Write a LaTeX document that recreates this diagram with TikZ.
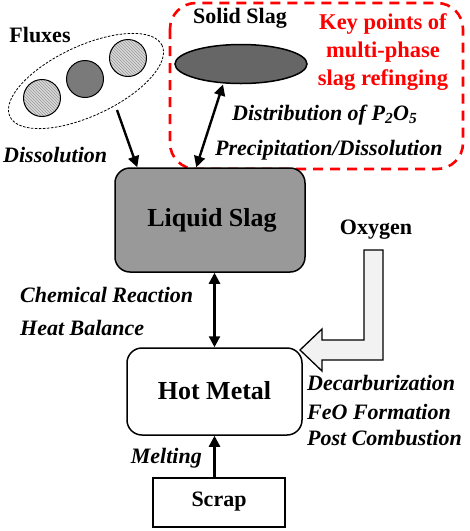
\documentclass[tikz,border=0pt]{standalone}
\usepackage{fontspec}
\setmainfont{Liberation Serif}
\usetikzlibrary{arrows.meta,shapes.geometric,patterns,calc}
\begin{document}
\begin{tikzpicture}[x=1pt,y=-1pt,
  bt/.style={font=\fontsize{22}{26}\selectfont\bfseries},
  big/.style={font=\fontsize{26}{30}\selectfont\bfseries},
  it/.style={font=\fontsize{22}{26}\selectfont\bfseries\itshape, inner sep=0pt},
  arr/.style={line width=2.4pt,-{Triangle[length=11pt,width=11pt]}},
  dbl/.style={line width=2.4pt,{Triangle[length=11pt,width=11pt]}-{Triangle[length=11pt,width=11pt]}},
  box/.style={draw, line width=1.5pt, inner sep=0pt},
  hatch/.style={preaction={fill=gray!30}, pattern=north west lines, pattern color=gray!80},
]
\useasboundingbox (0,0) rectangle (470,531);

% Fluxes group
\node[ellipse, draw, dash pattern=on 2.5pt off 1.5pt, line width=0.8pt, minimum width=168pt, minimum height=70pt, rotate=25, inner sep=0pt] (flux) at (86,81) {};
\node[circle, draw, line width=1pt, minimum size=37pt, inner sep=0pt, hatch] (c1) at (42,98) {};
\node[circle, draw, line width=1pt, minimum size=37pt, inner sep=0pt, fill=black!52] (c2) at (85,79) {};
\node[circle, draw, line width=1pt, minimum size=37pt, inner sep=0pt, hatch] (c3) at (128,58) {};
\node[bt] (fluxes) at (40,35) {Fluxes};

% key points frame
\draw[red, line width=2.6pt, dash pattern=on 10pt off 7pt, rounded corners=26pt] (170,3) rectangle (463,169);

% Solid slag
\coordinate (solid) at (241,64);
\draw[line width=1.5pt, fill=black!60] (solid) ellipse [x radius=66pt, y radius=19.5pt];
\node[bt] (solidt) at (240,18) {Solid Slag};
\node[font=\fontsize{22.5}{28}\selectfont\bfseries, text=red, align=center] (key) at (383,52) {Key points of\\multi-phase\\slag refinging};

% Liquid slag
\node[box, rounded corners=15pt, fill=black!40, minimum width=190pt, minimum height=104pt] (slag) at (210,220) {};
\node[big] (slagt) at (212,220) {Liquid Slag};

% Hot metal
\node[box, rounded corners=15pt, fill=white, minimum width=175pt, minimum height=87pt] (hot) at (214.5,391.5) {};
\node[big] (hott) at (214.5,391) {Hot Metal};

% Scrap
\node[box, minimum width=132pt, minimum height=49pt] (scrap) at (219,502.5) {};
\node[bt] (scrapt) at (219,502) {Scrap};

% Oxygen
\node[bt] (oxy) at (376,230) {Oxygen};
\coordinate (oxtip) at (300,350);
\draw[line width=1.3pt, fill=gray!10] (364,250) -- (383,250) -- (383,360) -- (322,360) -- (322,371) -- (oxtip) -- (322,329) -- (322,340) -- (364,340) -- cycle;

% connectors
\coordinate (fa) at (117,110);
\draw[arr] (fa) -- ($(slag.north west)+(23,0)$);
\coordinate (sa) at (223,84.5);
\draw[dbl] (sa) -- ($(slag.north west)+(82,0)$);
\draw[dbl] (hot.north |- slag.south) -- (hot.north);
\draw[arr] (scrap.north -| hot.south) -- (hot.south);

% labels
\node[it, anchor=west] (diss) at (3,155) {Dissolution};
\node[it, anchor=west] (distr) at (232,115) {Distribution of P\textsubscript{2}O\textsubscript{5}};
\node[it, anchor=west] (prec) at (215,150) {Precipitation/Dissolution};
\node[it, anchor=west] (chem) at (20,295) {Chemical Reaction};
\node[it, anchor=west] (heat) at (20,328) {Heat Balance};
\node[it, anchor=west] (decarb) at (307,383) {Decarburization};
\node[it, anchor=west] (feo) at (307,412) {FeO Formation};
\node[it, anchor=west] (post) at (307,438) {Post Combustion};
\node[it, anchor=east] (melt) at (202,458) {Melting};
\end{tikzpicture}
\end{document}
